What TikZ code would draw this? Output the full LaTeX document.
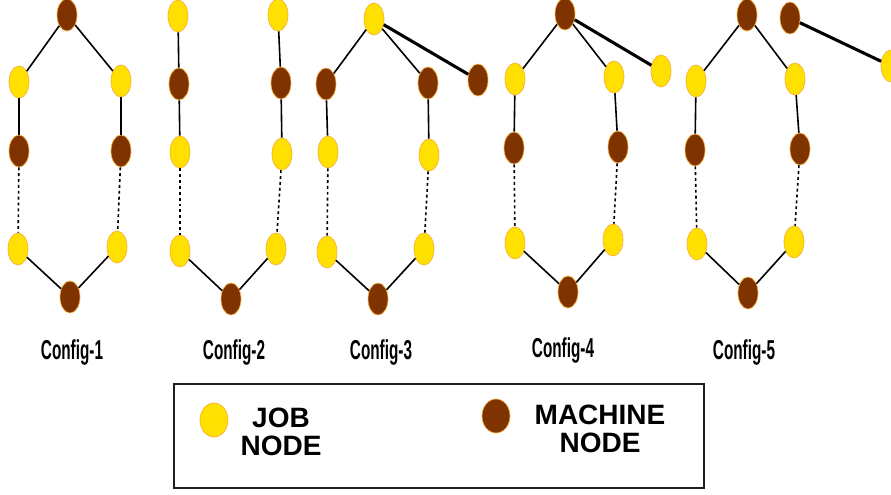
\documentclass[tikz,border=0pt]{standalone}
\usepackage{fontspec}
\setmainfont{Liberation Sans}
\newfontfamily\narrowfont[FakeStretch=0.56]{Liberation Sans}
\usetikzlibrary{shapes.geometric}
\definecolor{jobyellow}{RGB}{255,224,0}
\definecolor{machbrown}{RGB}{127,51,0}
\definecolor{rimorange}{RGB}{245,175,60}
\definecolor{boxgray}{RGB}{30,30,30}

\begin{document}
\begin{tikzpicture}[x=0.75pt, y=-0.75pt,
  job/.style={shape=ellipse, fill=jobyellow, draw=rimorange, line width=0.5pt, minimum width=15pt, minimum height=24pt, inner sep=0pt},
  machine/.style={job, fill=machbrown},
  link/.style={-, line width=1.2pt, draw=black},
  boldlink/.style={-, line width=2.3pt, draw=black},
  gaplink/.style={-, line width=1.2pt, draw=black, dash pattern=on 2.2pt off 2.2pt},
  cfglabel/.style={anchor=base, font=\narrowfont\bfseries\fontsize{20.5pt}{22pt}\selectfont},
  keytext/.style={align=center, font=\bfseries\fontsize{21pt}{21.5pt}\selectfont}]
\clip (0,0) rectangle (891,494);
% Config-1
\node[machine] (a1) at (67,15) {};
\node[job] (a2) at (19,82) {};
\node[job] (a3) at (121,81) {};
\node[machine] (a4) at (19,151) {};
\node[machine] (a5) at (121,151) {};
\node[job] (a6) at (18,249) {};
\node[job] (a7) at (117,247) {};
\node[machine] (a8) at (70,297) {};
\path [link] (a1) edge (a2);
\path [link] (a1) edge (a3);
\path [link] (a2) edge (a4);
\path [link] (a3) edge (a5);
\path [gaplink] (a4) edge (a6);
\path [gaplink] (a5) edge (a7);
\path [link] (a6) edge (a8);
\path [link] (a7) edge (a8);
% Config-2
\node[job] (b1) at (178,16) {};
\node[job] (b2) at (278,15) {};
\node[machine] (b3) at (179,84) {};
\node[machine] (b4) at (281,83) {};
\node[job] (b5) at (180,152) {};
\node[job] (b6) at (282,154) {};
\node[job] (b7) at (180,251) {};
\node[job] (b8) at (276,249) {};
\node[machine] (b9) at (231,299) {};
\path [link] (b1) edge (b3);
\path [link] (b2) edge (b4);
\path [link] (b3) edge (b5);
\path [link] (b4) edge (b6);
\path [gaplink] (b5) edge (b7);
\path [gaplink] (b6) edge (b8);
\path [link] (b7) edge (b9);
\path [link] (b8) edge (b9);
% Config-3
\node[job] (c1) at (374,19) {};
\node[machine] (c2) at (326,84) {};
\node[machine] (c3) at (428,83) {};
\node[machine] (c4) at (478,80) {};
\node[job] (c5) at (328,152) {};
\node[job] (c6) at (429,155) {};
\node[job] (c7) at (327,252) {};
\node[job] (c8) at (424,249) {};
\node[machine] (c9) at (378,299) {};
\path [link] (c1) edge (c2);
\path [link] (c1) edge (c3);
\path [boldlink] (c1) edge (c4);
\path [link] (c2) edge (c5);
\path [link] (c3) edge (c6);
\path [gaplink] (c5) edge (c7);
\path [gaplink] (c6) edge (c8);
\path [link] (c7) edge (c9);
\path [link] (c8) edge (c9);
% Config-4
\node[machine] (d1) at (565,14) {};
\node[job] (d2) at (515,79) {};
\node[job] (d3) at (614,77) {};
\node[job] (d4) at (661,71) {};
\node[machine] (d5) at (514,148) {};
\node[machine] (d6) at (618,147) {};
\node[job] (d7) at (515,243) {};
\node[job] (d8) at (613,240) {};
\node[machine] (d9) at (568,292) {};
\path [link] (d1) edge (d2);
\path [link] (d1) edge (d3);
\path [boldlink] (d1) edge (d4);
\path [link] (d2) edge (d5);
\path [link] (d3) edge (d6);
\path [gaplink] (d5) edge (d7);
\path [gaplink] (d6) edge (d8);
\path [link] (d7) edge (d9);
\path [link] (d8) edge (d9);
% Config-5
\node[machine] (e1) at (747,15) {};
\node[machine] (e2) at (790,18) {};
\node[job] (e3) at (891,66) {};
\node[job] (e4) at (696,81) {};
\node[job] (e5) at (795,79) {};
\node[machine] (e6) at (695,150) {};
\node[machine] (e7) at (800,149) {};
\node[job] (e8) at (697,244) {};
\node[job] (e9) at (794,242) {};
\node[machine] (e10) at (748,293) {};
\path [link] (e1) edge (e4);
\path [link] (e1) edge (e5);
\path [boldlink] (e2) edge (e3);
\path [link] (e4) edge (e6);
\path [link] (e5) edge (e7);
\path [gaplink] (e6) edge (e8);
\path [gaplink] (e7) edge (e9);
\path [link] (e8) edge (e10);
\path [link] (e9) edge (e10);
% names
\node[cfglabel] (n1) at (72,359) {Config-1};
\node[cfglabel] (n2) at (234,359) {Config-2};
\node[cfglabel] (n3) at (381,359) {Config-3};
\node[cfglabel] (n4) at (563,357) {Config-4};
\node[cfglabel] (n5) at (744,359) {Config-5};
% key
\node[draw=boxgray, line width=1.5pt, minimum width=398pt, minimum height=78pt, inner sep=0pt] (key) at (439,436) {};
\node[job, minimum width=21pt, minimum height=25.5pt] (k1) at (214,420) {};
\node[machine, minimum width=21pt, minimum height=25.5pt] (k2) at (496,416) {};
\node[keytext] (t1) at (281,432) {JOB\\NODE};
\node[keytext] (t2) at (600,429) {MACHINE\\NODE};
\end{tikzpicture}
\end{document}
